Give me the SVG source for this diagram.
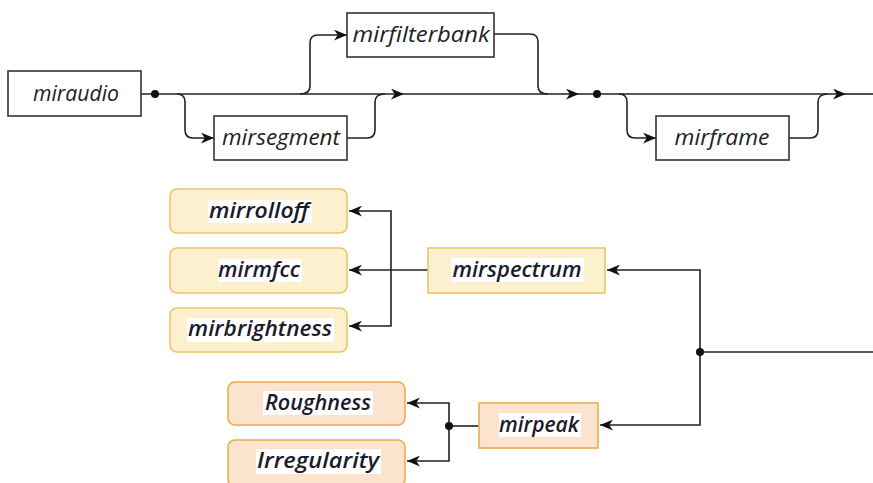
<svg xmlns="http://www.w3.org/2000/svg" width="873" height="483" viewBox="0 0 873 483">
  <defs>
    <marker id="arrow" markerUnits="userSpaceOnUse" viewBox="0 0 12 10" refX="12" refY="5" markerWidth="13" markerHeight="11" orient="auto">
      <path d="M0,0 L12,5 L0,10 L3.5,5 z" fill="#111"/>
    </marker>
    <style>
      .flow { fill: none; stroke: #222; stroke-width: 1.6; }
      .dot { fill: #111; }
      .op rect { fill: #fff; stroke: #333; stroke-width: 1.6; }
      .op text { font-family: "Open Sans", "DejaVu Sans", sans-serif; font-style: italic; font-size: 21px; fill: #222; text-anchor: middle; }
      .feat rect.box { fill: #fdf0cf; stroke: #e6c76a; stroke-width: 1.6; }
      .peach rect.box { fill: #fce3cd; stroke: #e8ae4a; stroke-width: 1.6; }
      rect.hl { fill: #fff; stroke: none; }
      .feat text, .peach text { font-family: "Open Sans", "DejaVu Sans", sans-serif; font-style: italic; font-weight: 600; font-size: 21px; fill: #1b1b2b; text-anchor: middle; }
    </style>
  </defs>

  <!-- connectors -->
  <g id="connectors">
    <!-- main processing chain -->
    <path class="flow" d="M141,94 H404" marker-end="url(#arrow)"/>
    <path class="flow" d="M404,94 H579" marker-end="url(#arrow)"/>
    <path class="flow" d="M579,94 H846" marker-end="url(#arrow)"/>
    <path class="flow" d="M846,94 H873"/>
    <!-- optional segmentation -->
    <path class="flow" d="M177,94 Q185,94 185,102 V130 Q185,138 193,138 H214" marker-end="url(#arrow)"/>
    <path class="flow" d="M347,138 H367 Q375,138 375,130 V102 Q375,94 385,94"/>
    <!-- optional filterbank -->
    <path class="flow" d="M300,94 Q310,94 310,86 V43 Q310,35 318,35 H347" marker-end="url(#arrow)"/>
    <path class="flow" d="M494,34 H530 Q538,34 538,42 V86 Q538,94 548,94"/>
    <!-- optional framing -->
    <path class="flow" d="M619,94 Q627,94 627,102 V130 Q627,138 635,138 H656" marker-end="url(#arrow)"/>
    <path class="flow" d="M789,138 H810 Q818,138 818,130 V102 Q818,94 828,94"/>
    <circle class="dot" cx="155" cy="94" r="4"/>
    <circle class="dot" cx="597" cy="94" r="4"/>

    <!-- feature extraction tree -->
    <path class="flow" d="M873,352 H700"/>
    <path class="flow" d="M700,352 V270 H607" marker-end="url(#arrow)"/>
    <path class="flow" d="M700,352 V425 H600" marker-end="url(#arrow)"/>
    <circle class="dot" cx="700" cy="352" r="4"/>

    <path class="flow" d="M428,270 H349" marker-end="url(#arrow)"/>
    <path class="flow" d="M391,270 V211 H349" marker-end="url(#arrow)"/>
    <path class="flow" d="M391,270 V326 H349" marker-end="url(#arrow)"/>

    <path class="flow" d="M479,426 H449"/>
    <path class="flow" d="M449,426 V403 H407" marker-end="url(#arrow)"/>
    <path class="flow" d="M449,426 V461 H407" marker-end="url(#arrow)"/>
    <circle class="dot" cx="449" cy="426" r="4"/>
  </g>

  <!-- chain operators -->
  <g id="miraudio" class="op">
    <rect x="8" y="71" width="133" height="45"/>
    <text x="76" y="101" textLength="86" lengthAdjust="spacingAndGlyphs">miraudio</text>
  </g>
  <g id="mirsegment" class="op">
    <rect x="214" y="116" width="133" height="44"/>
    <text x="281" y="145" textLength="118" lengthAdjust="spacingAndGlyphs">mirsegment</text>
  </g>
  <g id="mirfilterbank" class="op">
    <rect x="347" y="13" width="147" height="44"/>
    <text x="421" y="42" textLength="137" lengthAdjust="spacingAndGlyphs">mirfilterbank</text>
  </g>
  <g id="mirframe" class="op">
    <rect x="656" y="116" width="133" height="44"/>
    <text x="722" y="145" textLength="95" lengthAdjust="spacingAndGlyphs">mirframe</text>
  </g>

  <!-- spectral features -->
  <g id="mirrolloff" class="feat">
    <rect class="box" x="170" y="189" width="177" height="44" rx="7"/>
    <rect class="hl" x="208" y="200" width="104" height="23"/>
    <text x="259" y="218" textLength="100" lengthAdjust="spacingAndGlyphs">mirrolloff</text>
  </g>
  <g id="mirmfcc" class="feat">
    <rect class="box" x="170" y="248" width="177" height="45" rx="7"/>
    <rect class="hl" x="218" y="259" width="84" height="23"/>
    <text x="259" y="277" textLength="82" lengthAdjust="spacingAndGlyphs">mirmfcc</text>
  </g>
  <g id="mirbrightness" class="feat">
    <rect class="box" x="170" y="308" width="177" height="44" rx="7"/>
    <rect class="hl" x="187" y="318" width="147" height="24"/>
    <text x="260" y="336" textLength="144" lengthAdjust="spacingAndGlyphs">mirbrightness</text>
  </g>
  <g id="mirspectrum" class="feat">
    <rect class="box" x="428" y="248" width="177" height="45"/>
    <rect class="hl" x="451" y="258" width="133" height="24"/>
    <text x="517" y="277" textLength="129" lengthAdjust="spacingAndGlyphs">mirspectrum</text>
  </g>

  <!-- peak-based features -->
  <g id="mirpeak" class="peach">
    <rect class="box" x="479" y="403" width="119" height="45"/>
    <rect class="hl" x="499" y="413" width="82" height="24"/>
    <text x="539" y="432" textLength="80" lengthAdjust="spacingAndGlyphs">mirpeak</text>
  </g>
  <g id="Roughness" class="peach">
    <rect class="box" x="228" y="382" width="177" height="43" rx="7"/>
    <rect class="hl" x="263" y="391" width="110" height="24"/>
    <text x="318" y="410" textLength="106" lengthAdjust="spacingAndGlyphs">Roughness</text>
  </g>
  <g id="Irregularity" class="peach">
    <rect class="box" x="228" y="440" width="177" height="46" rx="7"/>
    <rect class="hl" x="256" y="449" width="125" height="25"/>
    <text x="318" y="468" textLength="122" lengthAdjust="spacingAndGlyphs">Irregularity</text>
  </g>
</svg>
